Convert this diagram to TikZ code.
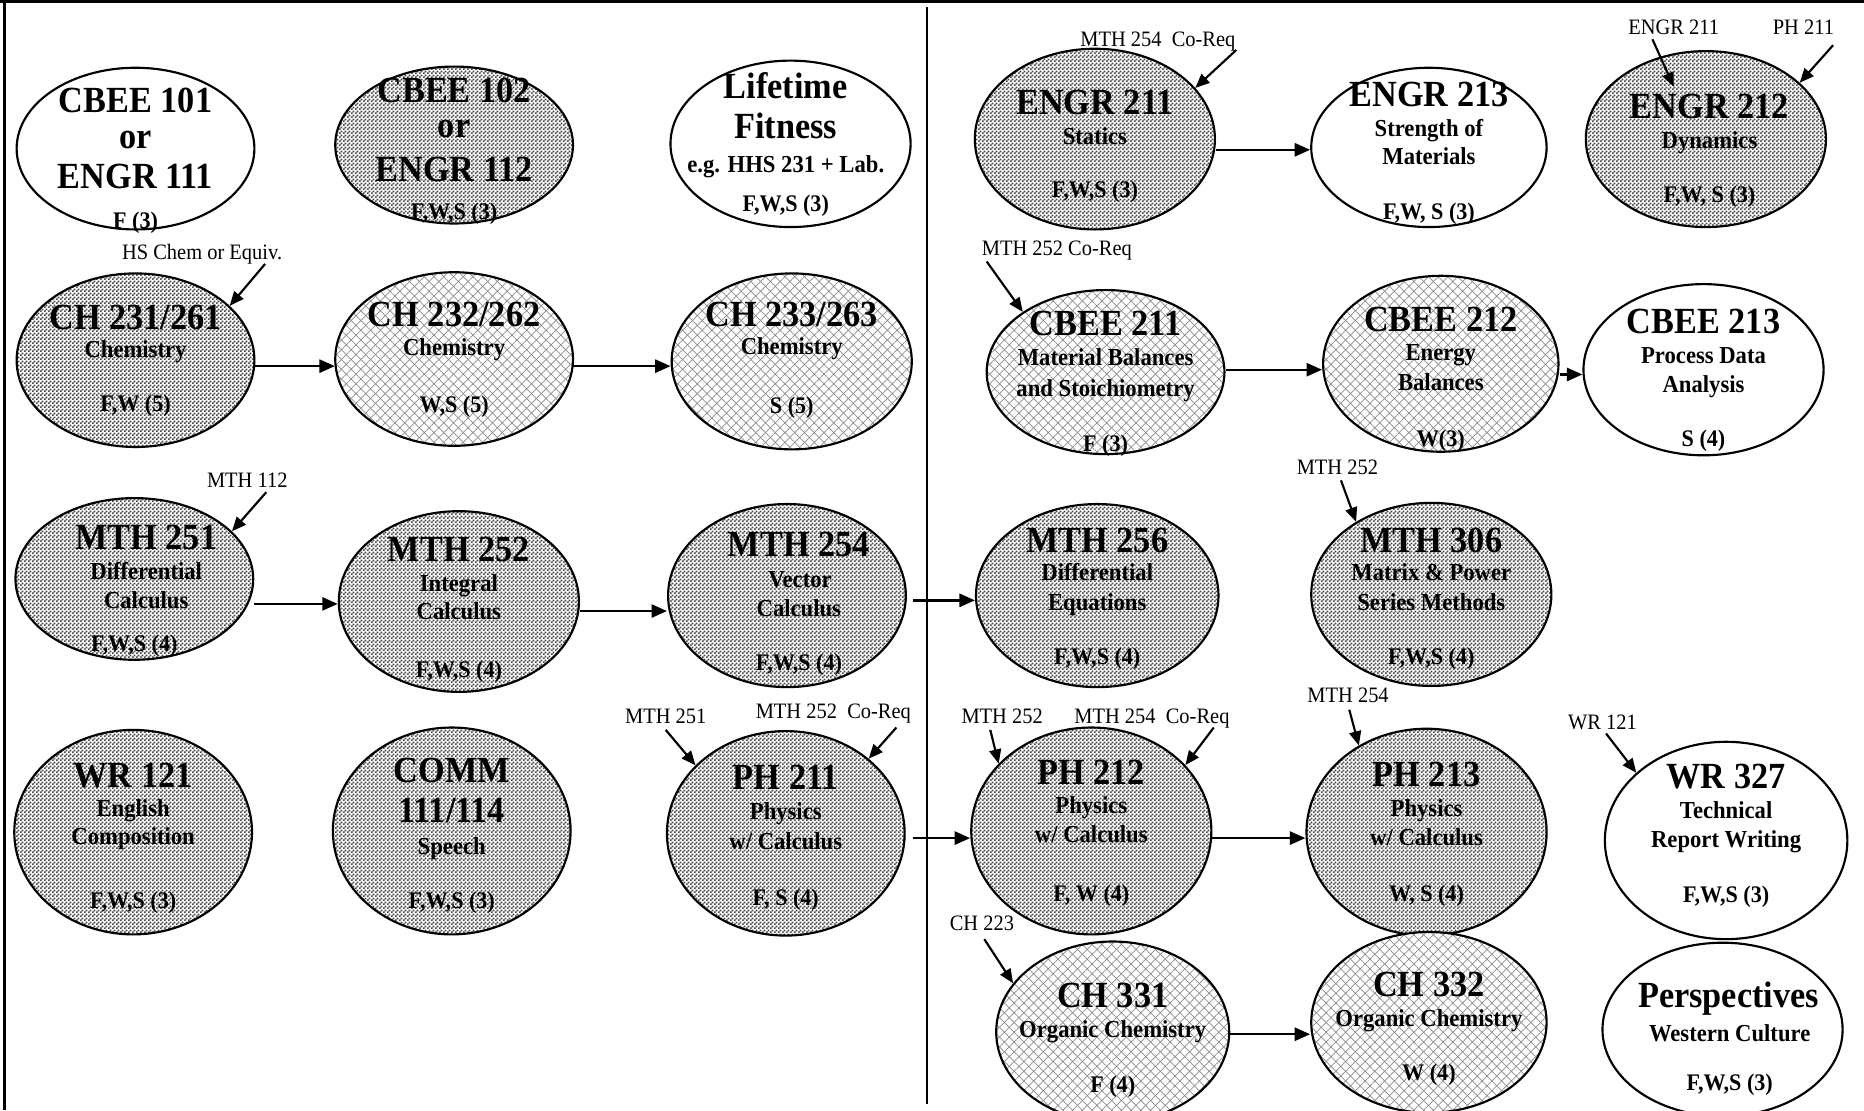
\documentclass[tikz,border=0pt]{standalone}
\usepackage{fontspec}
\setmainfont{Liberation Serif}[FakeStretch=0.93]
\usetikzlibrary{shapes.geometric,arrows.meta,patterns,patterns.meta}
\pgfdeclarepatternformonly{fchk}{\pgfpointorigin}{\pgfpoint{3.4pt}{3.4pt}}{\pgfpoint{3.4pt}{3.4pt}}{%
  \pgfpathrectangle{\pgfpointorigin}{\pgfpoint{1.7pt}{1.7pt}}%
  \pgfpathrectangle{\pgfpoint{1.7pt}{1.7pt}}{\pgfpoint{1.7pt}{1.7pt}}%
  \pgfusepath{fill}}
\tikzset{
  crs/.style={ellipse, draw, line width=1.8pt, inner sep=0pt},
  wht/.style={crs, fill=white},
  chk/.style={crs, preaction={fill=white}, pattern=fchk, pattern color=black!72},
  lat/.style={crs, preaction={fill=white},
    preaction={pattern={Lines[angle=45,distance=5.8pt,line width=0.6pt]}, pattern color=black!45},
    pattern={Lines[angle=-45,distance=5.8pt,line width=0.6pt]}, pattern color=black!45},
  ttl/.style={font=\bfseries\fontsize{31}{32}\selectfont, anchor=base, inner sep=0pt},
  stk/.style={font=\bfseries\fontsize{31}{32}\selectfont, anchor=north, align=center, inner sep=0pt},
  sbt/.style={font=\bfseries\fontsize{20.5}{21}\selectfont, anchor=base, inner sep=0pt},
  trm/.style={font=\bfseries\fontsize{20}{21}\selectfont, anchor=base, inner sep=0pt},
  lbl/.style={font=\fontsize{18.5}{19}\selectfont, anchor=base, inner sep=0pt},
  arr/.style={line width=2pt, -{Triangle[length=13pt,width=11pt]}},
  parr/.style={line width=1.8pt, -{Triangle[length=12pt,width=10pt]}},
  frame/.style={line width=2.5pt},
  divider/.style={line width=1.6pt}
}
\begin{document}
\begin{tikzpicture}[x=1pt,y=-1pt]
\useasboundingbox (0,0) rectangle (1568,934);
\fill[white] (0,0) rectangle (1568,934);
% frame
\draw[frame] (0,1.25) -- (1568,1.25);
\draw[frame] (4,0) -- (4,934);
\draw[divider] (780,6) -- (780,929);

% ---------- Row 1
\node[wht, minimum width=200pt, minimum height=136pt] (cbee101) at (114,125) {};
\node[stk] (cbee101a) at (114,74) {CBEE 101\\[-2pt]or\\[2pt]ENGR 111};
\node[trm] (cbee101d) at (114,192) {F (3)};

\node[chk, minimum width=200pt, minimum height=132pt] (cbee102) at (382,122) {};
\node[stk] (cbee102a) at (382,65.5) {CBEE 102\\[-2.5pt]or\\[4.5pt]ENGR 112};
\node[trm] (cbee102d) at (382,185) {F,W,S (3)};

\node[wht, minimum width=202pt, minimum height=140pt] (life) at (665,121) {};
\node[stk] (lifea) at (661,60.5) {Lifetime\\[2pt]Fitness};
\node[sbt] (lifec) at (661,145) {e.g. HHS 231 + Lab.};
\node[trm] (lifed) at (661,178) {F,W,S (3)};

\node[chk, minimum width=202pt, minimum height=152pt] (engr211) at (921,117) {};
\node[ttl] (engr211a) at (921,96.5) {ENGR 211};
\node[sbt] (engr211b) at (921,121.5) {Statics};
\node[trm] (engr211c) at (921,166) {F,W,S (3)};

\node[wht, minimum width=198pt, minimum height=134pt] (engr213) at (1202,124) {};
\node[ttl] (engr213a) at (1202,89.5) {ENGR 213};
\node[sbt] (engr213b) at (1202,114.5) {Strength of};
\node[sbt] (engr213c) at (1202,138.5) {Materials};
\node[trm] (engr213d) at (1202,185) {F,W, S (3)};

\node[chk, minimum width=202pt, minimum height=148pt] (engr212) at (1435,117) {};
\node[ttl] (engr212a) at (1438,99.5) {ENGR 212};
\node[sbt] (engr212b) at (1438,124.5) {Dynamics};
\node[trm] (engr212c) at (1438,170) {F,W, S (3)};

% ---------- Row 2
\node[chk, minimum width=200pt, minimum height=146pt] (ch231) at (114,303) {};
\node[ttl] (ch231a) at (114,277) {CH 231/261};
\node[sbt] (ch231b) at (114,300.5) {Chemistry};
\node[trm] (ch231c) at (114,346) {F,W (5)};

\node[lat, minimum width=200pt, minimum height=146pt] (ch232) at (382,302) {};
\node[ttl] (ch232a) at (382,275) {CH 232/262};
\node[sbt] (ch232b) at (382,299) {Chemistry};
\node[trm] (ch232c) at (382,347) {W,S (5)};

\node[lat, minimum width=202pt, minimum height=148pt] (ch233) at (666,304) {};
\node[ttl] (ch233a) at (666,274.5) {CH 233/263};
\node[sbt] (ch233b) at (666,298.5) {Chemistry};
\node[trm] (ch233c) at (666,348) {S (5)};

\node[lat, minimum width=200pt, minimum height=138pt] (cbee211) at (930,313) {};
\node[ttl] (cbee211a) at (930,282.5) {CBEE 211};
\node[sbt] (cbee211b) at (930,307.5) {Material Balances};
\node[sbt] (cbee211c) at (930,333.5) {and Stoichiometry};
\node[trm] (cbee211d) at (930,380) {F (3)};

\node[lat, minimum width=198pt, minimum height=148pt] (cbee212) at (1212,306) {};
\node[ttl] (cbee212a) at (1212,278.5) {CBEE 212};
\node[sbt] (cbee212b) at (1212,303.5) {Energy};
\node[sbt] (cbee212c) at (1212,328.5) {Balances};
\node[trm] (cbee212d) at (1212,376) {W(3)};

\node[wht, minimum width=202pt, minimum height=144pt] (cbee213) at (1433,311) {};
\node[ttl] (cbee213a) at (1433,280.5) {CBEE 213};
\node[sbt] (cbee213b) at (1433,305.5) {Process Data};
\node[sbt] (cbee213c) at (1433,330.5) {Analysis};
\node[trm] (cbee213d) at (1433,376) {S (4)};

% ---------- Row 3
\node[chk, minimum width=200pt, minimum height=136pt] (mth251) at (113,487) {};
\node[ttl] (mth251a) at (123,462.5) {MTH 251};
\node[sbt] (mth251b) at (123,487.5) {Differential};
\node[sbt] (mth251c) at (123,511.5) {Calculus};
\node[trm] (mth251d) at (113,548) {F,W,S (4)};

\node[chk, minimum width=202pt, minimum height=152pt] (mth252) at (386,506) {};
\node[ttl] (mth252a) at (386,472.5) {MTH 252};
\node[sbt] (mth252b) at (386,497.5) {Integral};
\node[sbt] (mth252c) at (386,521.5) {Calculus};
\node[trm] (mth252d) at (386,570) {F,W,S (4)};

\node[chk, minimum width=200pt, minimum height=154pt] (mth254) at (662,501) {};
\node[ttl] (mth254a) at (672,468.5) {MTH 254};
\node[sbt] (mth254b) at (673,494.5) {Vector};
\node[sbt] (mth254c) at (672,518.5) {Calculus};
\node[trm] (mth254d) at (672,564) {F,W,S (4)};

\node[chk, minimum width=204pt, minimum height=154pt] (mth256) at (923,501) {};
\node[ttl] (mth256a) at (923,464.5) {MTH 256};
\node[sbt] (mth256b) at (923,488.5) {Differential};
\node[sbt] (mth256c) at (923,513.5) {Equations};
\node[trm] (mth256d) at (923,559) {F,W,S (4)};

\node[chk, minimum width=202pt, minimum height=154pt] (mth306) at (1204,500) {};
\node[ttl] (mth306a) at (1204,464.5) {MTH 306};
\node[sbt] (mth306b) at (1204,488.5) {Matrix \& Power};
\node[sbt] (mth306c) at (1204,513.5) {Series Methods};
\node[trm] (mth306d) at (1204,559) {F,W,S (4)};

% ---------- Row 4
\node[chk, minimum width=200pt, minimum height=172pt] (wr121) at (112,700) {};
\node[ttl] (wr121a) at (112,662.5) {WR 121};
\node[sbt] (wr121b) at (112,686.5) {English};
\node[sbt] (wr121c) at (112,710.5) {Composition};
\node[trm] (wr121d) at (112,764) {F,W,S (3)};

\node[chk, minimum width=200pt, minimum height=174pt] (comm) at (380,699) {};
\node[stk] (comma) at (380,637.5) {COMM\\[2pt]111/114};
\node[sbt] (commc) at (380,718.5) {Speech};
\node[trm] (commd) at (380,764) {F,W,S (3)};

\node[chk, minimum width=200pt, minimum height=172pt] (ph211) at (661,701) {};
\node[ttl] (ph211a) at (661,664.5) {PH 211};
\node[sbt] (ph211b) at (661,689.5) {Physics};
\node[sbt] (ph211c) at (661,714.5) {w/ Calculus};
\node[trm] (ph211d) at (661,762) {F, S (4)};

\node[chk, minimum width=202pt, minimum height=174pt] (ph212) at (918,699) {};
\node[ttl] (ph212a) at (918,659.5) {PH 212};
\node[sbt] (ph212b) at (918,684.5) {Physics};
\node[sbt] (ph212c) at (918,708.5) {w/ Calculus};
\node[trm] (ph212d) at (918,758) {F, W (4)};

\node[chk, minimum width=202pt, minimum height=174pt] (ph213) at (1200,700) {};
\node[ttl] (ph213a) at (1200,661.5) {PH 213};
\node[sbt] (ph213b) at (1200,686.5) {Physics};
\node[sbt] (ph213c) at (1200,711.5) {w/ Calculus};
\node[trm] (ph213d) at (1200,758) {W, S (4)};

\node[wht, minimum width=204pt, minimum height=166pt] (wr327) at (1452,707) {};
\node[ttl] (wr327a) at (1452,663.5) {WR 327};
\node[sbt] (wr327b) at (1452,688.5) {Technical};
\node[sbt] (wr327c) at (1452,712.5) {Report Writing};
\node[trm] (wr327d) at (1452,759) {F,W,S (3)};

% ---------- Row 5
\node[lat, minimum width=196pt, minimum height=152pt] (ch331) at (936,868) {};
\node[ttl] (ch331a) at (936,847.5) {CH 331};
\node[sbt] (ch331b) at (936,872.5) {Organic Chemistry};
\node[trm] (ch331c) at (936,919) {F (4)};

\node[lat, minimum width=198pt, minimum height=152pt] (ch332) at (1202,860) {};
\node[ttl] (ch332a) at (1202,838.5) {CH 332};
\node[sbt] (ch332b) at (1202,863.5) {Organic Chemistry};
\node[trm] (ch332c) at (1202,909) {W (4)};

\node[wht, minimum width=202pt, minimum height=146pt] (persp) at (1449,866) {};
\node[ttl] (perspa) at (1454,847.5) {Perspectives};
\node[sbt] (perspb) at (1455,876.5) {Western Culture};
\node[trm] (perspc) at (1455,917) {F,W,S (3)};

% ---------- prerequisite labels
\node[lbl] (lhs) at (170,218) {HS Chem or Equiv.};
\node[lbl] (l112) at (208,410) {MTH 112};
\node[lbl] (l254a) at (974,39) {MTH 254\ \ Co-Req};
\node[lbl] (le211) at (1408,29) {ENGR 211};
\node[lbl] (lp211) at (1517,29) {PH 211};
\node[lbl] (l252a) at (889,215) {MTH 252 Co-Req};
\node[lbl] (l252b) at (1125,399) {MTH 252};
\node[lbl] (l251) at (560,609) {MTH 251};
\node[lbl] (l252c) at (701,604) {MTH 252\ \ Co-Req};
\node[lbl] (l252d) at (843,609) {MTH 252};
\node[lbl] (l254b) at (969,609) {MTH 254\ \ Co-Req};
\node[lbl] (l254c) at (1134,591) {MTH 254};
\node[lbl] (lwr) at (1348,614) {WR 121};
\node[lbl] (l223) at (826,783) {CH 223};

% arrow start points / levels
\coordinate (shs) at (223,222);
\coordinate (s112) at (224,414);
\coordinate (s254a) at (1040,42);
\coordinate (se211) at (1390,33);
\coordinate (te211) at (1408,73);
\coordinate (sp211) at (1542,38);
\coordinate (s252a) at (830,220);
\coordinate (s252b) at (1128,404);
\coordinate (s251) at (560,614);
\coordinate (s252c) at (754,612);
\coordinate (s252d) at (833,614);
\coordinate (s254b) at (1021,612);
\coordinate (s254c) at (1135,597);
\coordinate (swr) at (1351,617);
\coordinate (s223) at (828,790);
\coordinate (s256) at (768,505);
\coordinate (s212) at (768,705);
\coordinate (y126) at (0,126);
\coordinate (y308) at (0,308);
\coordinate (y311) at (0,311);
\coordinate (y315) at (0,315);
\coordinate (y508) at (0,508);
\coordinate (y514) at (0,514);
\coordinate (y705) at (0,705);
\coordinate (y870) at (0,870);

% label arrows
\draw[parr] (shs) -- (ch231.30);
\draw[parr] (s112) -- (mth251.26);
\draw[parr] (s254a) -- (engr211.27);
\draw[parr] (se211) -- (te211);
\draw[parr] (sp211) -- (engr212.31);
\draw[parr] (s252a) -- (cbee211.144);
\draw[parr] (s252b) -- (mth306.136);
\draw[parr] (s251) -- (ph211.143);
\draw[parr] (s252c) -- (ph211.42);
\draw[parr] (s252d) -- (ph212.144);
\draw[parr] (s254b) -- (ph212.35);
\draw[parr] (s254c) -- (ph213.128);
\draw[parr] (swr) -- (wr327.143);
\draw[parr] (s223) -- (ch331.154);

% sequence arrows
\draw[arr] (engr211.east |- y126) -- (engr213.west |- y126);
\draw[arr] (ch231.east |- y308) -- (ch232.west |- y308);
\draw[arr] (ch232.east |- y308) -- (ch233.west |- y308);
\draw[arr] (cbee211.east |- y311) -- (cbee212.west |- y311);
\draw[arr] (cbee212.east |- y315) -- (cbee213.west |- y315);
\draw[arr] (mth251.east |- y508) -- (mth252.west |- y508);
\draw[arr] (mth252.east |- y514) -- (mth254.west |- y514);
\draw[arr] (s256) -- (mth256.west |- s256);
\draw[arr] (s212) -- (ph212.west |- s212);
\draw[arr] (ph212.east |- y705) -- (ph213.west |- y705);
\draw[arr] (ch331.east |- y870) -- (ch332.west |- y870);
\end{tikzpicture}
\end{document}
